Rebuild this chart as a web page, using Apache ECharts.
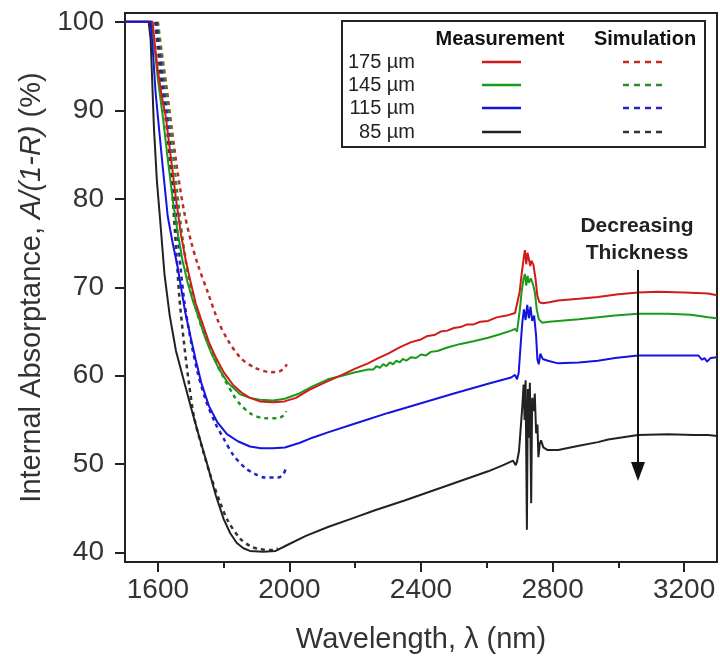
<!DOCTYPE html>
<html>
<head>
<meta charset="utf-8">
<script src="https://cdn.jsdelivr.net/npm/echarts@6/dist/echarts.min.js"></script>
<style>
html,body{margin:0;padding:0;background:#fff;}
#chart{width:720px;height:663px;}
</style>
</head>
<body>
<div id="chart"></div>
<script>
// ---- data ----
var xTicks = [1600, 2000, 2400, 2800, 3200];
var xMinorTicks = [1800, 2200, 2600, 3000];
var yTicks = [40, 50, 60, 70, 80, 90, 100];
var thicknessLabels = ['175 µm', '145 µm', '115 µm', '85 µm'];
var legendHeaders = ['Measurement', 'Simulation'];
var annotationLines = ['Decreasing', 'Thickness'];

// Measurement (solid) curves: [wavelength nm, internal absorptance %]
var meas175 = [[1500,100],[1584,100],[1592,97],[1600,94.5],[1612,91.5],[1624,89.3],[1640,84.5],[1655,80],[1670,76],[1685,73],[1700,70.5],[1715,68.2],[1731,66.4],[1755,63.8],[1777,62.0],[1800,60.4],[1830,58.9],[1858,58.0],[1880,57.5],[1910,57.1],[1950,57.0],[1985,57.1],[2020,57.5],[2060,58.4],[2117,59.4],[2160,60.1],[2200,60.8],[2239,61.4],[2270,62.0],[2300,62.5],[2335,63.2],[2370,63.8],[2400,64.1],[2420,64.5],[2440,64.6],[2460,65.0],[2480,65.1],[2500,65.4],[2520,65.5],[2540,65.8],[2560,65.8],[2580,66.1],[2604,66.2],[2630,66.6],[2660,66.8],[2686,67.1],[2692,66.9],[2700,69.5],[2706,71.5],[2712,73.2],[2716,74.2],[2720,72.6],[2724,73.9],[2728,73.2],[2732,72.4],[2736,73.0],[2742,72.5],[2748,71.0],[2754,69.0],[2760,68.3],[2770,68.2],[2790,68.3],[2817,68.5],[2880,68.7],[2938,68.9],[3000,69.2],[3060,69.4],[3120,69.5],[3200,69.4],[3273,69.3],[3300,69.1]];
var meas145 = [[1500,100],[1582,100],[1590,97],[1600,93.5],[1615,89.3],[1630,84.5],[1645,80],[1660,76.2],[1675,73],[1690,70.6],[1706,68.5],[1722,66.8],[1742,64.5],[1762,62.6],[1785,60.8],[1813,59.2],[1850,57.9],[1880,57.5],[1910,57.3],[1950,57.2],[1986,57.4],[2030,58.0],[2070,58.8],[2117,59.6],[2160,60.0],[2200,60.4],[2239,60.7],[2255,60.7],[2265,61.1],[2275,60.9],[2285,61.3],[2295,61.1],[2305,61.5],[2315,61.3],[2325,61.7],[2335,61.5],[2345,61.9],[2355,61.7],[2370,62.1],[2385,62.0],[2400,62.4],[2415,62.3],[2430,62.7],[2450,62.8],[2480,63.2],[2520,63.6],[2560,63.9],[2604,64.3],[2640,64.7],[2674,65.1],[2686,65.3],[2692,65.0],[2700,67.3],[2706,69.5],[2712,71.0],[2716,71.5],[2720,70.2],[2724,71.3],[2728,70.5],[2734,71.0],[2740,70.4],[2746,69.5],[2752,67.5],[2758,66.4],[2768,66.0],[2790,66.1],[2817,66.2],[2880,66.4],[2938,66.6],[2990,66.8],[3060,67.0],[3150,67.0],[3220,66.9],[3273,66.6],[3300,66.5]];
var meas115 = [[1500,100],[1578,100],[1586,96],[1593,92],[1600,89.3],[1615,83.5],[1630,78],[1645,75],[1660,72.3],[1683,67.2],[1700,64.3],[1715,61.8],[1732,59.2],[1755,56.6],[1780,54.8],[1810,53.4],[1843,52.6],[1880,52.0],[1913,51.8],[1950,51.8],[1986,51.9],[2030,52.4],[2070,53.0],[2117,53.6],[2200,54.6],[2300,55.8],[2400,56.9],[2500,58.0],[2604,59.1],[2674,59.8],[2686,60.1],[2692,59.6],[2697,60.3],[2703,63.5],[2708,66.0],[2713,67.5],[2718,66.3],[2723,68.0],[2728,66.5],[2733,67.8],[2738,66.2],[2744,66.8],[2750,64.5],[2754,61.8],[2758,61.3],[2763,62.5],[2770,61.9],[2786,61.7],[2817,61.4],[2880,61.5],[2938,61.7],[2990,62.0],[3060,62.3],[3150,62.3],[3243,62.3],[3255,61.8],[3262,62.0],[3270,61.6],[3280,62.0],[3300,62.1]];
var meas85 = [[1500,100],[1572,100],[1578,98],[1583,93],[1588,88],[1597,82],[1606,78],[1620,71.5],[1636,66.8],[1655,62.8],[1680,59.3],[1700,56.5],[1725,53.2],[1750,50.0],[1776,46.5],[1800,43.8],[1820,42.2],[1840,41.1],[1860,40.5],[1880,40.2],[1920,40.1],[1958,40.2],[1995,40.9],[2050,41.9],[2117,42.9],[2200,44.0],[2260,44.8],[2350,45.9],[2450,47.2],[2550,48.5],[2604,49.2],[2650,49.9],[2680,50.4],[2688,49.9],[2692,50.3],[2698,51.5],[2703,54.0],[2708,56.5],[2712,59.0],[2715,55.0],[2718,59.5],[2722,42.6],[2725,58.5],[2728,53.0],[2731,59.2],[2735,45.6],[2738,57.5],[2742,56.0],[2746,58.0],[2750,53.5],[2754,54.5],[2757,50.8],[2761,52.3],[2765,52.7],[2772,51.9],[2785,51.6],[2817,51.6],[2880,52.1],[2938,52.5],[2969,52.8],[3060,53.3],[3150,53.4],[3230,53.3],[3273,53.3],[3300,53.2]];

// Simulation (dashed) curves
var sim175 = [[1600,100],[1610,97],[1625,93],[1642,88],[1660,83],[1680,78.5],[1700,75.3],[1722,72.5],[1752,69.4],[1783,66.2],[1813,64.0],[1852,62.0],[1895,60.9],[1944,60.4],[1970,60.5],[1985,60.9],[1992,61.3]];
var sim145 = [[1598,100],[1608,97],[1622,93],[1640,87.5],[1658,81],[1675,75.5],[1695,70.8],[1720,67],[1745,64.3],[1770,62.1],[1800,59.8],[1830,57.8],[1852,56.7],[1883,55.7],[1925,55.2],[1965,55.2],[1982,55.5],[1990,56.0]];
var sim115 = [[1595,100],[1604,97],[1616,93],[1632,88],[1648,81],[1662,75],[1680,68.5],[1700,64],[1720,60.5],[1745,57.3],[1775,54.6],[1800,52.9],[1830,51.0],[1865,49.6],[1895,48.9],[1925,48.5],[1965,48.5],[1980,48.8],[1988,49.4]];
var sim85 = [[1592,100],[1600,97],[1612,92.5],[1630,87],[1645,80],[1656,74],[1665,69],[1680,63.5],[1695,59],[1710,55.3],[1735,51.8],[1761,48.6],[1790,45.6],[1813,43.6],[1850,41.6],[1883,40.7],[1910,40.4],[1950,40.3],[1965,40.5]];

// ---- styles ----
var FONT = 'Liberation Sans, Arial, sans-serif';
var measColors = ['#d11a1a', '#1b9a1b', '#1414e0', '#222222'];
var simColors = ['#c22a2a', '#2a8f2a', '#2424c4', '#333333'];
var measData = [meas175, meas145, meas115, meas85];
var simData = [sim175, sim145, sim115, sim85];

var series = [];
for (var i = 0; i < 4; i++) {
  series.push({
    name: 'Simulation ' + thicknessLabels[i], type: 'line', data: simData[i],
    symbol: 'none', smooth: 0.3, silent: true, z: 2,
    lineStyle: { color: simColors[i], width: 2.5, type: [4, 4] }
  });
}
var measOrder = [3, 1, 0, 2];
measOrder.forEach(function (i) {
  series.push({
    name: 'Measurement ' + thicknessLabels[i], type: 'line', data: measData[i],
    symbol: 'none', smooth: false, silent: true, z: 3,
    lineStyle: { color: measColors[i], width: 2 }
  });
});

// ---- legend box (graphic) ----
var graphics = [];
var box = { x: 342, y: 21, w: 363, h: 126 };
graphics.push({ type: 'rect', shape: { x: box.x, y: box.y, width: box.w, height: box.h },
  style: { fill: '#fff', stroke: '#222', lineWidth: 2 }, z: 10 });
graphics.push({ type: 'text', x: 500, y: 39, z: 11, style: { text: legendHeaders[0], font: 'bold 20px ' + FONT, fill: '#111', align: 'center', verticalAlign: 'middle' } });
graphics.push({ type: 'text', x: 645, y: 39, z: 11, style: { text: legendHeaders[1], font: 'bold 20px ' + FONT, fill: '#111', align: 'center', verticalAlign: 'middle' } });
var rowY = [62, 85, 108, 132];
for (var r = 0; r < 4; r++) {
  graphics.push({ type: 'text', x: 415, y: rowY[r], z: 11, style: { text: thicknessLabels[r], font: '20px ' + FONT, fill: '#222', align: 'right', verticalAlign: 'middle' } });
  graphics.push({ type: 'line', z: 11, shape: { x1: 482, y1: rowY[r], x2: 521, y2: rowY[r] }, style: { stroke: measColors[r], lineWidth: 2.5 } });
  graphics.push({ type: 'line', z: 11, shape: { x1: 623, y1: rowY[r], x2: 662, y2: rowY[r] }, style: { stroke: simColors[r], lineWidth: 2.5, lineDash: [6, 5] } });
}
// annotation
graphics.push({ type: 'text', x: 637, y: 226, z: 11, style: { text: annotationLines[0], font: 'bold 21px ' + FONT, fill: '#222', align: 'center', verticalAlign: 'middle' } });
graphics.push({ type: 'text', x: 637, y: 253, z: 11, style: { text: annotationLines[1], font: 'bold 21px ' + FONT, fill: '#222', align: 'center', verticalAlign: 'middle' } });
graphics.push({ type: 'line', z: 11, shape: { x1: 638, y1: 270, x2: 638, y2: 464 }, style: { stroke: '#111', lineWidth: 2 } });
graphics.push({ type: 'polygon', z: 11, shape: { points: [[631, 462], [645, 462], [638, 481]] }, style: { fill: '#111' } });

var plainNum = function (v) { return String(v); };

var chart = echarts.init(document.getElementById('chart'), null, { renderer: 'canvas' });
chart.setOption({
  animation: false,
  backgroundColor: '#fff',
  grid: { left: 125, right: 3, top: 13, bottom: 101, show: true, borderColor: '#222', borderWidth: 2, backgroundColor: 'transparent' },
  xAxis: [{
    type: 'value', min: 1500, max: 3300, position: 'bottom',
    name: 'Wavelength, λ (nm)', nameLocation: 'middle', nameGap: 63,
    nameTextStyle: { fontFamily: FONT, fontSize: 29, color: '#333' },
    axisLine: { show: true, lineStyle: { color: '#222', width: 2 } },
    axisTick: { show: true, customValues: xTicks, length: 10, lineStyle: { color: '#222', width: 2 } },
    axisLabel: { show: true, customValues: xTicks, formatter: plainNum, margin: 14, fontFamily: FONT, fontSize: 28, color: '#333' },
    splitLine: { show: false }
  }, {
    type: 'value', min: 1500, max: 3300, position: 'bottom',
    axisLine: { show: false },
    axisTick: { show: true, customValues: xMinorTicks, length: 6, lineStyle: { color: '#222', width: 2 } },
    axisLabel: { show: false },
    splitLine: { show: false }
  }],
  yAxis: {
    type: 'value', min: 38.95, max: 101,
    name: '{n|Internal Absorptance, }{i|A/(1-R)}{n| (%)}', nameLocation: 'middle', nameGap: 78, nameRotate: 90,
    nameTextStyle: { fontFamily: FONT, fontSize: 29, color: '#333',
      rich: { n: { fontFamily: FONT, fontSize: 29, color: '#333' }, i: { fontFamily: FONT, fontSize: 29, color: '#333', fontStyle: 'italic' } } },
    axisLine: { show: true, lineStyle: { color: '#222', width: 2 } },
    axisTick: { show: true, customValues: yTicks, length: 10, lineStyle: { color: '#222', width: 2 } },
    axisLabel: { show: true, customValues: yTicks, formatter: plainNum, margin: 21, fontFamily: FONT, fontSize: 28, color: '#333' },
    splitLine: { show: false }
  },
  series: series,
  graphic: graphics
});
</script>
</body>
</html>
